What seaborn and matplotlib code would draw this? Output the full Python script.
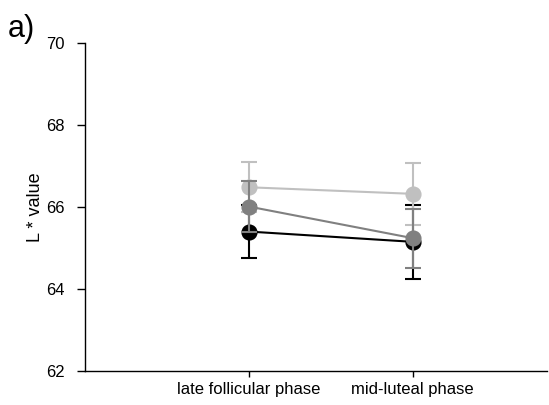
import matplotlib
matplotlib.use('Agg')
import matplotlib.pyplot as plt
import seaborn as sns
import pandas as pd

# datos
fases = ['late follicular phase', 'mid-luteal phase']
grupos = ['black', 'light', 'dark']
colores = {'black': '#000000', 'light': '#c0c0c0', 'dark': '#808080'}

media_black = [65.40, 65.15]
media_light = [66.48, 66.32]
media_dark = [66.01, 65.24]

error_black = [0.64, 0.90]
error_light = [0.61, 0.75]
error_dark = [0.62, 0.72]

medias = {'black': media_black, 'light': media_light, 'dark': media_dark}
errores = {'black': error_black, 'light': error_light, 'dark': error_dark}

filas = []
for g in grupos:
    for i, f in enumerate(fases):
        filas.append({'fase': f, 'grupo': g, 'L': medias[g][i], 'err': errores[g][i]})
data = pd.DataFrame(filas)

sns.set_style('ticks')
plt.rcParams['font.family'] = ['Liberation Sans', 'DejaVu Sans']
plt.rcParams['text.color'] = 'black'
plt.rcParams['axes.labelcolor'] = 'black'
plt.rcParams['xtick.color'] = 'black'
plt.rcParams['ytick.color'] = 'black'

fig = plt.figure(figsize=(5.49, 4.05), dpi=100)
ax = fig.add_axes([0.155, 0.084, 0.841, 0.81])

for z, g in enumerate(grupos):
    sub = data[data['grupo'] == g]
    sns.pointplot(data=sub, x='fase', y='L', order=fases, color=colores[g],
                  errorbar=None, markers='o', markersize=10.5, linewidth=1.5, ax=ax)
    ax.errorbar(range(len(fases)), sub['L'], yerr=sub['err'], fmt='none',
                ecolor=colores[g], elinewidth=1.5, capsize=5.5, capthick=1.5, zorder=1 + z)

ax.set_ylim(62, 70)
ax.set_xlim(-1, 1.82)
ax.set_yticks([62, 64, 66, 68, 70])
ax.set_xlabel('')
ax.set_ylabel('L * value', fontsize=13, labelpad=1)
ax.tick_params(axis='x', labelsize=12, length=4, width=1, pad=4)
ax.tick_params(axis='y', labelsize=12, length=6, width=1, pad=9)
for s in ['top', 'right']:
    ax.spines[s].set_visible(False)
for s in ['left', 'bottom']:
    ax.spines[s].set_linewidth(1)
    ax.spines[s].set_color('black')

fig.text(0.015, 0.909, 'a)', fontsize=22, va='baseline')

fig.savefig('out.png', dpi=100)
